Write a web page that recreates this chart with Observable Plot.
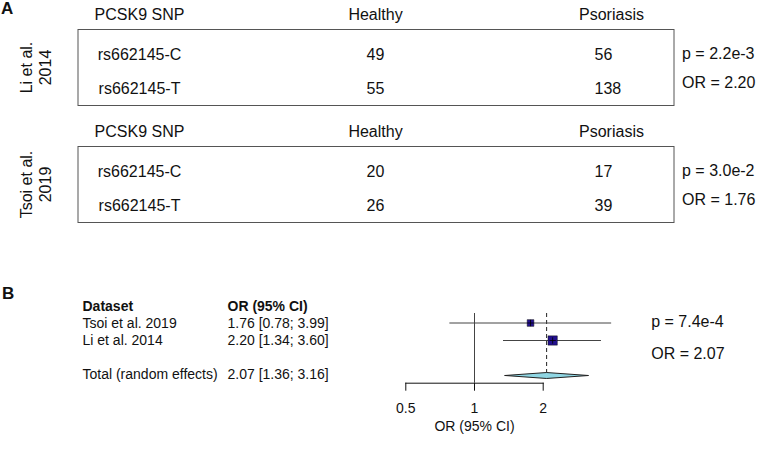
<!DOCTYPE html>
<html><head><meta charset="utf-8">
<script src="https://cdn.jsdelivr.net/npm/d3@7"></script>
<script src="https://cdn.jsdelivr.net/npm/@observablehq/plot@0.6"></script>
<style>
html,body{margin:0;padding:0;background:#fff;}
#chart{position:relative;width:773px;height:453px;font-family:"Liberation Sans",Arial,Helvetica,sans-serif;color:#111;overflow:hidden;}
#chart svg{position:absolute;left:0;overflow:visible;}
.panel{position:absolute;font-weight:bold;font-size:17px;line-height:1;}
</style></head><body>
<div id="chart"><div class="panel" style="left:1px;top:0px">A</div><div class="panel" style="left:2px;top:285px">B</div></div>
<script>
// ---------- Panel A data ----------
const studiesA = ["Li et al. 2014", "Tsoi et al. 2019"];
const alleles = ["rs662145-C", "rs662145-T"];
const columns = ["PCSK9 SNP", "Healthy", "Psoriasis"];
const healthyCounts = [[49, 55], [20, 26]];
const psoriasisCounts = [[56, 138], [17, 39]];
const pValuesA = ["2.2e-3", "3.0e-2"];
const oddsRatiosA = ["2.20", "1.76"];

// ---------- Panel B data ----------
const forestStudies = ["Tsoi et al. 2019", "Li et al. 2014"];
const forestOR = [1.76, 2.20];
const forestLow = [0.78, 1.34];
const forestHigh = [3.99, 3.60];
const forestWeight = [34, 66];
const pooledLabel = "Total (random effects)";
const pooledOR = 2.07, pooledLow = 1.36, pooledHigh = 3.16;
const pooledP = "7.4e-4";
const forestTicks = [0.5, 1, 2];
const tableHeaders = ["Dataset", "OR (95% CI)"];
const axisLabel = "OR (95% CI)";

const FONT = '"Liberation Sans", Arial, Helvetica, sans-serif';
const chart = document.getElementById("chart");

// ---------- Panel A ----------
const rowsA = studiesA.flatMap((s, i) => alleles.map((a, j) => ({
  study: s, allele: a, healthy: healthyCounts[i][j], psoriasis: psoriasisCounts[i][j]
})));
const statsA = studiesA.map((s, i) => ({study: s, p: pValuesA[i], or: oddsRatiosA[i]}));

const plotA = Plot.plot({
  width: 773, height: 240,
  marginTop: 28, marginBottom: 17, marginLeft: 77.5, marginRight: 99.5,
  style: {fontFamily: FONT, fontSize: "16px", color: "#111", background: "transparent", overflow: "visible"},
  x: {domain: columns, range: [139, 611], padding: 0, axis: null},
  y: {domain: alleles, padding: 0.49, insetTop: 7, axis: null},
  fy: {domain: studiesA, paddingInner: 0.347, paddingOuter: 0, axis: null, label: null},
  marks: [
    Plot.frame({stroke: "#555"}),
    Plot.text(columns, {x: d => d, frameAnchor: "top", lineAnchor: "middle", dy: -15}),
    Plot.text(studiesA, {fy: d => d, text: d => d.replace(/ (\d{4})$/, "\n$1"), frameAnchor: "left", textAnchor: "middle", lineAnchor: "middle", dx: -43, rotate: -90, lineHeight: 1.2}),
    Plot.text(rowsA, {fy: "study", y: "allele", x: () => columns[0], text: "allele"}),
    Plot.text(rowsA, {fy: "study", y: "allele", x: () => columns[1], text: "healthy"}),
    Plot.text(rowsA, {fy: "study", y: "allele", x: () => columns[2], text: "psoriasis", textAnchor: "start", dx: -17}),
    Plot.text(statsA, {fy: "study", y: () => alleles[0], frameAnchor: "right", dx: 8, dy: -1, textAnchor: "start", text: d => `p = ${d.p}`}),
    Plot.text(statsA, {fy: "study", y: () => alleles[1], frameAnchor: "right", dx: 8, dy: -6, textAnchor: "start", text: d => `OR = ${d.or}`})
  ]
});
plotA.style.top = "0px";
chart.append(plotA);

// ---------- Panel B: table ----------
const fmt = (o, l, h) => `${o.toFixed(2)} [${l.toFixed(2)}; ${h.toFixed(2)}]`;
const tableRows = [
  ...forestStudies.map((s, i) => ({name: s, ci: fmt(forestOR[i], forestLow[i], forestHigh[i])})),
  {name: pooledLabel, ci: fmt(pooledOR, pooledLow, pooledHigh)}
];
const rowDomain = ["header", ...forestStudies, "", pooledLabel];

const plotBTable = Plot.plot({
  width: 773, height: 173, margin: 0,
  style: {fontFamily: FONT, fontSize: "14px", color: "#111", background: "transparent", overflow: "visible"},
  x: {domain: tableHeaders, range: [81.5, 226.5], padding: 0, axis: null},
  y: {domain: rowDomain, range: [25, 95], padding: 0, axis: null},
  marks: [
    Plot.text(tableHeaders, {x: d => d, y: () => "header", textAnchor: "start", fontWeight: "bold"}),
    Plot.text(tableRows, {x: () => tableHeaders[0], y: "name", text: "name", textAnchor: "start"}),
    Plot.text(tableRows, {x: () => tableHeaders[1], y: "name", text: "ci", textAnchor: "start"})
  ]
});
plotBTable.style.top = "280px";
chart.append(plotBTable);

// ---------- Panel B: forest plot ----------
const forestData = forestStudies.map((s, i) => ({name: s, or: forestOR[i], lo: forestLow[i], hi: forestHigh[i], w: forestWeight[i]}));
const forestRows = [...forestStudies, "", pooledLabel];
const rowIndex = name => forestRows.indexOf(name);
const pi = rowIndex(pooledLabel);
const halfH = 0.17;
const diamond = [
  {x: pooledLow, y: pi}, {x: pooledOR, y: pi - halfH}, {x: pooledHigh, y: pi},
  {x: pooledOR, y: pi + halfH}, {x: pooledLow, y: pi}
];

const plotBForest = Plot.plot({
  width: 773, height: 173,
  marginTop: 33, marginBottom: 70.3, marginLeft: 405.3, marginRight: 230.3,
  style: {fontFamily: FONT, fontSize: "14px", color: "#111", background: "transparent", overflow: "visible"},
  x: {type: "log", domain: [0.5, 2], ticks: forestTicks, tickFormat: d => String(d), tickSize: 8, tickPadding: 12, line: true, label: null},
  y: {domain: [0, forestRows.length - 1], range: [42.5, 95], axis: null},
  r: {type: "sqrt", domain: [0, d3.max(forestWeight)], range: [0, 5.25]},
  marks: [
    Plot.ruleX([1], {stroke: "#444"}),
    Plot.ruleX([pooledOR], {stroke: "#222", strokeDasharray: "4,3", insetBottom: 10}),
    Plot.ruleY(forestData, {y: d => rowIndex(d.name), x1: "lo", x2: "hi", stroke: "#444"}),
    Plot.dot(forestData, {x: "or", y: d => rowIndex(d.name), r: "w", symbol: "square", fill: "#22108f", stroke: "#111", strokeWidth: 0.5}),
    Plot.dot(forestData, {x: "or", y: d => rowIndex(d.name), symbol: "plus", r: 2.2, stroke: "#000", strokeWidth: 0.8}),
    Plot.line(diamond, {x: "x", y: "y", fill: "#8fd6e3", stroke: "#222", strokeWidth: 1}),
    Plot.text([axisLabel], {frameAnchor: "bottom", lineAnchor: "middle", dy: 43.5}),
    Plot.text([pooledP], {frameAnchor: "right", y: () => rowIndex(forestStudies[0]), dx: 108, dy: -1, textAnchor: "start", fontSize: 16, text: d => `p = ${d}`}),
    Plot.text([pooledOR], {frameAnchor: "right", y: () => rowIndex(forestStudies[1]), dx: 108, dy: 13, textAnchor: "start", fontSize: 16, text: d => `OR = ${d.toFixed(2)}`})
  ]
});
plotBForest.style.top = "280px";
chart.append(plotBForest);
</script>
</body></html>
